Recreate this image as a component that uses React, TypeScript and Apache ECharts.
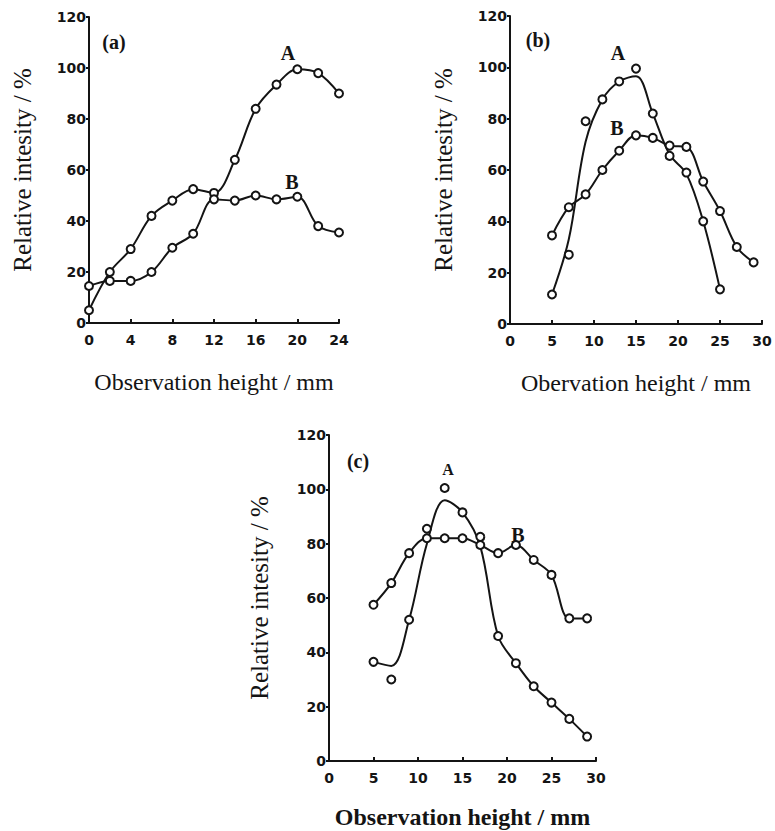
import React, { useEffect, useRef } from "react";
import * as echarts from "echarts";

// Panel (a)
const xA = [0, 2, 4, 6, 8, 10, 12, 14, 16, 18, 20, 22, 24];
const aCurveA = [5, 20, 29, 42, 48, 52.5, 51, 64, 84, 93.5, 99.5, 98, 90];
const aCurveB = [14.5, 16.5, 16.5, 20, 29.5, 35, 48.5, 48, 50, 48.5, 49.5, 38, 35.5];
const xTicksA = [0, 4, 8, 12, 16, 20, 24];

// Panel (b)
const xBA = [5, 7, 9, 11, 13, 15, 17, 19, 21, 23, 25];
const bMarksA = [11.5, 27, 79, 87.5, 94.5, 99.5, 82, 65.5, 59, 40, 13.5];
const bFitA = [11.5, 33, 71, 87.5, 94.5, 96.5, 82, 66, 58.5, 40, 13.5];
const xBB = [5, 7, 9, 11, 13, 15, 17, 19, 21, 23, 25, 27, 29];
const bCurveB = [34.5, 45.5, 50.5, 60, 67.5, 73.5, 72.5, 69.5, 69, 55.5, 44, 30, 24];

// Panel (c)
const xC = [5, 7, 9, 11, 13, 15, 17, 19, 21, 23, 25, 27, 29];
const cMarksA = [36.5, 30, 52, 85.5, 100.5, 91.5, 82.5, 46, 36, 27.5, 21.5, 15.5, 9];
const cFitA = [36.5, 35, 52, 80, 96, 91.5, 79, 46, 36, 27.5, 21.5, 15.5, 9];
const cCurveB = [57.5, 65.5, 76.5, 82, 82, 82, 79.5, 76.5, 79.5, 74, 68.5, 52.5, 52.5];

const yTicks = [0, 20, 40, 60, 80, 100, 120];

const INK = "#141414";
const SERIF = "'Liberation Serif', 'DejaVu Serif', serif";
const SANS = "'DejaVu Sans', sans-serif";

const pairs = (xs: number[], ys: number[]) => xs.map((x, i) => [x, ys[i]]);

export default function App() {
  const ref = useRef<HTMLDivElement>(null);
  useEffect(() => {
    if (!ref.current) return;
    const chart = echarts.init(ref.current, null, { renderer: "svg" });

    const mkX = (gi: number, max: number, interval: number, name: string, gap: number, bold: boolean) => ({
      type: "value",
      gridIndex: gi,
      min: 0,
      max,
      interval,
      name,
      nameLocation: "middle",
      nameGap: gap,
      nameTextStyle: {
        fontFamily: SERIF,
        fontSize: 24,
        fontWeight: bold ? "bold" : "normal",
        color: INK,
      },
      axisLine: { lineStyle: { color: INK, width: 2 } },
      axisTick: { inside: true, length: 4, lineStyle: { color: INK, width: 2 } },
      axisLabel: {
        fontFamily: SANS,
        fontWeight: "bold",
        fontSize: 14,
        color: INK,
        margin: 10,
      },
      splitLine: { show: false },
    });
    const mkY = (gi: number, gap: number) => ({
      type: "value",
      gridIndex: gi,
      min: yTicks[0],
      max: yTicks[yTicks.length - 1],
      interval: 20,
      name: "Relative intesity / %",
      nameLocation: "middle",
      nameGap: gap,
      nameTextStyle: {
        fontFamily: SERIF,
        fontSize: 25,
        color: INK,
      },
      axisLine: { lineStyle: { color: INK, width: 2 } },
      axisTick: { inside: false, length: 3, lineStyle: { color: INK, width: 2 } },
      axisLabel: {
        fontFamily: SANS,
        fontWeight: "bold",
        fontSize: 14,
        color: INK,
        margin: 3,
      },
      splitLine: { show: false },
    });

    const markerStyle = { color: "#ffffff", borderColor: INK, borderWidth: 2, opacity: 1 };
    const lineWithMarks = (xi: number, data: number[][]) => ({
      type: "line",
      xAxisIndex: xi,
      yAxisIndex: xi,
      data,
      smooth: 0.35,
      symbol: "circle",
      symbolSize: 8,
      showSymbol: true,
      lineStyle: { color: INK, width: 2 },
      itemStyle: markerStyle,
      z: 3,
    });
    const fitLine = (xi: number, data: number[][]) => ({
      type: "line",
      xAxisIndex: xi,
      yAxisIndex: xi,
      data,
      smooth: 0.35,
      showSymbol: false,
      symbol: "none",
      lineStyle: { color: INK, width: 2 },
      z: 2,
    });
    const marks = (xi: number, data: number[][]) => ({
      type: "scatter",
      xAxisIndex: xi,
      yAxisIndex: xi,
      data,
      symbol: "circle",
      symbolSize: 8,
      itemStyle: markerStyle,
      z: 4,
    });

    const label = (text: string, x: number, y: number, size = 20) => ({
      type: "text",
      x,
      y,
      style: {
        text,
        fontFamily: SERIF,
        fontWeight: "bold",
        fontSize: size,
        fill: INK,
        textAlign: "center",
        textVerticalAlign: "middle",
      },
    });

    chart.setOption({
      animation: false,
      backgroundColor: "#ffffff",
      grid: [
        { left: 89, top: 17, width: 250, height: 306 },
        { left: 510, top: 16, width: 252, height: 308 },
        { left: 329, top: 435, width: 267, height: 326 },
      ],
      xAxis: [
        mkX(0, xTicksA[xTicksA.length - 1], 4, "Observation height / mm", 47, false),
        mkX(1, 30, 5, "Obervation height / mm", 47, false),
        mkX(2, 30, 5, "Observation height / mm", 44, true),
      ],
      yAxis: [mkY(0, 54), mkY(1, 54), mkY(2, 57)],
      series: [
        lineWithMarks(0, pairs(xA, aCurveA)),
        lineWithMarks(0, pairs(xA, aCurveB)),
        fitLine(1, pairs(xBA, bFitA)),
        marks(1, pairs(xBA, bMarksA)),
        lineWithMarks(1, pairs(xBB, bCurveB)),
        fitLine(2, pairs(xC, cFitA)),
        marks(2, pairs(xC, cMarksA)),
        lineWithMarks(2, pairs(xC, cCurveB)),
      ],
      graphic: [
        label("(a)", 114, 42),
        label("A", 288, 53),
        label("B", 292, 182),
        label("(b)", 538, 40),
        label("A", 618, 53),
        label("B", 617, 128),
        label("(c)", 358, 461),
        label("A", 448, 469, 16),
        label("B", 518, 535),
      ],
    });
    return () => chart.dispose();
  }, []);
  return (
    <div
      ref={ref}
      style={{ position: "absolute", left: 0, top: 0, width: 775, height: 831, background: "#fff" }}
    />
  );
}
